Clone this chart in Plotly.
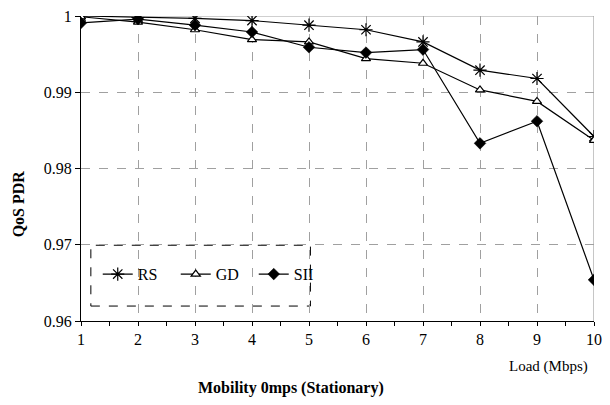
import plotly.graph_objects as go

load = [1, 2, 3, 4, 5, 6, 7, 8, 9, 10]
rs = [1.0000, 0.9998, 0.9997, 0.9994, 0.9988, 0.9982, 0.9966, 0.9929, 0.9918, 0.9842]
gd = [0.9999, 0.9992, 0.9982, 0.9969, 0.9966, 0.9944, 0.9938, 0.9903, 0.9888, 0.9837]
sii = [0.9991, 0.9996, 0.9988, 0.9979, 0.9959, 0.9952, 0.9956, 0.9833, 0.9862, 0.9654]

y_ticks = [0.96, 0.97, 0.98, 0.99, 1.0]
y_labels = ["0.96", "0.97", "0.98", "0.99", "1"]
x_ticks = load
x_labels = [str(v) for v in load]

font = "Liberation Serif, Times New Roman, Times, serif"

# plot area in pixels
L, R, T, B = 81, 602, 15, 321
W, H = 610, 405
pw, ph = R - L, B - T


def px(x):
    return (x - L) / pw


def py(y):
    return (B - y) / ph


fig = go.Figure()
fig.add_trace(go.Scatter(x=load, y=rs, name="RS", mode="lines+markers",
                         line=dict(color="black", width=1.2),
                         marker=dict(symbol="asterisk-open", size=11, color="black",
                                     line=dict(color="black", width=1.2))))
fig.add_trace(go.Scatter(x=load, y=gd, name="GD", mode="lines+markers",
                         line=dict(color="black", width=1.2),
                         marker=dict(symbol="triangle-up", size=8, color="white",
                                     line=dict(color="black", width=1.2))))
fig.add_trace(go.Scatter(x=load, y=sii, name="SII", mode="lines+markers",
                         line=dict(color="black", width=1.2),
                         marker=dict(symbol="diamond", size=9, color="black",
                                     line=dict(color="black", width=0.5))))

# top and right plot borders (solid gray)
fig.add_shape(type="line", xref="x", yref="y", x0=1, x1=10, y0=1.0, y1=1.0,
              line=dict(color="#a0a0a0", width=1.2), layer="between")
fig.add_shape(type="line", xref="x", yref="y", x0=10, x1=10, y0=0.96, y1=1.0,
              line=dict(color="#a0a0a0", width=1.2), layer="between")
# legend dashed box
fig.add_shape(type="rect", xref="paper", yref="paper",
              x0=px(91), x1=px(314), y0=py(306), y1=py(245),
              line=dict(color="black", width=1, dash="dash"),
              fillcolor="white", layer="between")

fig.add_annotation(text="Load (Mbps)", xref="paper", yref="paper",
                   x=px(598), y=py(367), xanchor="right", yanchor="middle",
                   showarrow=False, font=dict(family=font, size=15, color="black"))
fig.add_annotation(text="<b>Mobility 0mps (Stationary)</b>", xref="paper", yref="paper",
                   x=px(294), y=py(388), xanchor="center", yanchor="middle",
                   showarrow=False, font=dict(family=font, size=16, color="black"))
fig.add_annotation(text="<b>QoS PDR</b>", xref="paper", yref="paper",
                   x=px(17), y=py(203), xanchor="center", yanchor="middle",
                   textangle=-90,
                   showarrow=False, font=dict(family=font, size=16, color="black"))

fig.update_layout(
    width=W, height=H,
    margin=dict(l=L, r=W - R, t=T, b=H - B),
    paper_bgcolor="white", plot_bgcolor="white",
    font=dict(family=font, size=16, color="black"),
    showlegend=True,
    legend=dict(orientation="h", x=px(98), y=py(274),
                xanchor="left", yanchor="middle", bgcolor="rgba(0,0,0,0)",
                font=dict(family=font, size=16, color="black"),
                entrywidth=33, entrywidthmode="pixels",
                itemwidth=30, tracegroupgap=0),
    xaxis=dict(range=[1, 10], tickvals=x_ticks, ticktext=x_labels,
               showline=True, linecolor="black", linewidth=1.2,
               ticks="outside", ticklen=4, tickcolor="black",
               minor=dict(dtick=0.5, tick0=1, ticks="outside", ticklen=4,
                          tickcolor="black", showgrid=False),
               showgrid=True, gridcolor="#a0a0a0", griddash="dash", gridwidth=1,
               zeroline=False),
    yaxis=dict(range=[0.96, 1.0], tickvals=y_ticks, ticktext=y_labels,
               showline=True, linecolor="black", linewidth=1.2,
               ticks="outside", ticklen=5, tickcolor="black",
               showgrid=True, gridcolor="#a0a0a0", griddash="dash", gridwidth=1,
               zeroline=False),
)

fig.write_html("out.html")
